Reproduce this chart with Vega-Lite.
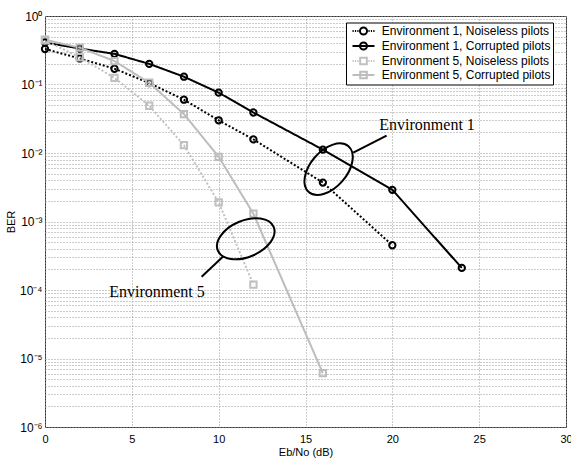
{
  "$schema": "https://vega.github.io/schema/vega-lite/v6.json",
  "width": 521,
  "height": 411,
  "autosize": "none",
  "padding": {"left": 45, "top": 16, "right": 5, "bottom": 32},
  "background": "#ffffff",
  "config": {
    "view": {"stroke": "#333333", "strokeWidth": 1},
    "axis": {
      "labelFont": "Liberation Sans",
      "titleFont": "Liberation Sans",
      "labelFontSize": 11,
      "titleFontSize": 11,
      "titleFontWeight": "normal",
      "labelColor": "#000000",
      "titleColor": "#000000",
      "domain": false,
      "ticks": false,
      "grid": true,
      "gridColor": "#999999",
      "gridDash": [1, 2],
      "gridWidth": 1,
      "labelFlush": false,
      "labelOverlap": false
    },
    "legend": {
      "symbolOpacity": 1
    }
  },
  "datasets": {
    "ber": [
      {"series": "Environment 1, Noiseless pilots", "env": "Environment 1", "pilots": "Noiseless", "snr": 0, "ber": 0.33},
      {"series": "Environment 1, Noiseless pilots", "env": "Environment 1", "pilots": "Noiseless", "snr": 2, "ber": 0.24},
      {"series": "Environment 1, Noiseless pilots", "env": "Environment 1", "pilots": "Noiseless", "snr": 4, "ber": 0.17},
      {"series": "Environment 1, Noiseless pilots", "env": "Environment 1", "pilots": "Noiseless", "snr": 6, "ber": 0.105},
      {"series": "Environment 1, Noiseless pilots", "env": "Environment 1", "pilots": "Noiseless", "snr": 8, "ber": 0.06},
      {"series": "Environment 1, Noiseless pilots", "env": "Environment 1", "pilots": "Noiseless", "snr": 10, "ber": 0.03},
      {"series": "Environment 1, Noiseless pilots", "env": "Environment 1", "pilots": "Noiseless", "snr": 12, "ber": 0.0158},
      {"series": "Environment 1, Noiseless pilots", "env": "Environment 1", "pilots": "Noiseless", "snr": 16, "ber": 0.0037},
      {"series": "Environment 1, Noiseless pilots", "env": "Environment 1", "pilots": "Noiseless", "snr": 20, "ber": 0.00045},
      {"series": "Environment 1, Corrupted pilots", "env": "Environment 1", "pilots": "Corrupted", "snr": 0, "ber": 0.41},
      {"series": "Environment 1, Corrupted pilots", "env": "Environment 1", "pilots": "Corrupted", "snr": 2, "ber": 0.335},
      {"series": "Environment 1, Corrupted pilots", "env": "Environment 1", "pilots": "Corrupted", "snr": 4, "ber": 0.28},
      {"series": "Environment 1, Corrupted pilots", "env": "Environment 1", "pilots": "Corrupted", "snr": 6, "ber": 0.2},
      {"series": "Environment 1, Corrupted pilots", "env": "Environment 1", "pilots": "Corrupted", "snr": 8, "ber": 0.13},
      {"series": "Environment 1, Corrupted pilots", "env": "Environment 1", "pilots": "Corrupted", "snr": 10, "ber": 0.076},
      {"series": "Environment 1, Corrupted pilots", "env": "Environment 1", "pilots": "Corrupted", "snr": 12, "ber": 0.039},
      {"series": "Environment 1, Corrupted pilots", "env": "Environment 1", "pilots": "Corrupted", "snr": 16, "ber": 0.0112},
      {"series": "Environment 1, Corrupted pilots", "env": "Environment 1", "pilots": "Corrupted", "snr": 20, "ber": 0.0029},
      {"series": "Environment 1, Corrupted pilots", "env": "Environment 1", "pilots": "Corrupted", "snr": 24, "ber": 0.00021},
      {"series": "Environment 5, Noiseless pilots", "env": "Environment 5", "pilots": "Noiseless", "snr": 0, "ber": 0.44},
      {"series": "Environment 5, Noiseless pilots", "env": "Environment 5", "pilots": "Noiseless", "snr": 2, "ber": 0.25},
      {"series": "Environment 5, Noiseless pilots", "env": "Environment 5", "pilots": "Noiseless", "snr": 4, "ber": 0.125},
      {"series": "Environment 5, Noiseless pilots", "env": "Environment 5", "pilots": "Noiseless", "snr": 6, "ber": 0.049},
      {"series": "Environment 5, Noiseless pilots", "env": "Environment 5", "pilots": "Noiseless", "snr": 8, "ber": 0.013},
      {"series": "Environment 5, Noiseless pilots", "env": "Environment 5", "pilots": "Noiseless", "snr": 10, "ber": 0.0019},
      {"series": "Environment 5, Noiseless pilots", "env": "Environment 5", "pilots": "Noiseless", "snr": 12, "ber": 0.00012},
      {"series": "Environment 5, Corrupted pilots", "env": "Environment 5", "pilots": "Corrupted", "snr": 0, "ber": 0.45},
      {"series": "Environment 5, Corrupted pilots", "env": "Environment 5", "pilots": "Corrupted", "snr": 2, "ber": 0.345},
      {"series": "Environment 5, Corrupted pilots", "env": "Environment 5", "pilots": "Corrupted", "snr": 4, "ber": 0.22},
      {"series": "Environment 5, Corrupted pilots", "env": "Environment 5", "pilots": "Corrupted", "snr": 6, "ber": 0.106},
      {"series": "Environment 5, Corrupted pilots", "env": "Environment 5", "pilots": "Corrupted", "snr": 8, "ber": 0.037},
      {"series": "Environment 5, Corrupted pilots", "env": "Environment 5", "pilots": "Corrupted", "snr": 10, "ber": 0.0088},
      {"series": "Environment 5, Corrupted pilots", "env": "Environment 5", "pilots": "Corrupted", "snr": 12, "ber": 0.0013},
      {"series": "Environment 5, Corrupted pilots", "env": "Environment 5", "pilots": "Corrupted", "snr": 16, "ber": 0.0000061}
    ]
  },
  "resolve": {"scale": {"shape": "independent", "stroke": "independent"}},
  "layer": [
    {
      "data": {"name": "ber"},
      "mark": {"type": "line", "clip": true},
      "encoding": {
        "x": {
          "field": "snr", "type": "quantitative",
          "scale": {"domain": [0, 30], "nice": false, "zero": false},
          "axis": {"title": "Eb/No (dB)", "values": [0, 5, 10, 15, 20, 25, 30], "labelPadding": 6, "titlePadding": 2}
        },
        "y": {
          "field": "ber", "type": "quantitative",
          "scale": {"type": "log", "domain": [0.000001, 1], "nice": false},
          "axis": {
            "title": "BER",
            "titlePadding": 3,
            "labelPadding": 3,
            "labelFontSize": 12,
            "values": [0.000001, 0.000002, 0.000003, 0.000004, 0.000005, 0.000006, 0.000007, 0.000008, 0.000009,
                       0.00001, 0.00002, 0.00003, 0.00004, 0.00005, 0.00006, 0.00007, 0.00008, 0.00009,
                       0.0001, 0.0002, 0.0003, 0.0004, 0.0005, 0.0006, 0.0007, 0.0008, 0.0009,
                       0.001, 0.002, 0.003, 0.004, 0.005, 0.006, 0.007, 0.008, 0.009,
                       0.01, 0.02, 0.03, 0.04, 0.05, 0.06, 0.07, 0.08, 0.09,
                       0.1, 0.2, 0.3, 0.4, 0.5, 0.6, 0.7, 0.8, 0.9, 1],
            "labelExpr": "abs(log(datum.value)/LN10 - round(log(datum.value)/LN10)) < 0.01 ? ['10⁰','10⁻¹','10⁻²','10⁻³','10⁻⁴','10⁻⁵','10⁻⁶'][round(-log(datum.value)/LN10)] : ''"
          }
        },
        "stroke": {
          "field": "series", "type": "nominal",
          "scale": {
            "domain": ["Environment 1, Noiseless pilots", "Environment 1, Corrupted pilots", "Environment 5, Noiseless pilots", "Environment 5, Corrupted pilots"],
            "range": ["#000000", "#000000", "#c0c0c0", "#bdbdbd"]
          },
          "legend": null
        },
        "strokeDash": {
          "field": "pilots", "type": "nominal",
          "scale": {"domain": ["Noiseless", "Corrupted"], "range": [[2, 2], [1, 0]]},
          "legend": null
        },
        "strokeWidth": {
          "field": "series", "type": "nominal",
          "scale": {
            "domain": ["Environment 1, Noiseless pilots", "Environment 1, Corrupted pilots", "Environment 5, Noiseless pilots", "Environment 5, Corrupted pilots"],
            "range": [2, 2, 1.5, 2.5]
          },
          "legend": null
        }
      }
    },
    {
      "data": {"name": "ber"},
      "mark": {"type": "point", "filled": false, "strokeWidth": 2, "opacity": 1, "size": 40},
      "encoding": {
        "x": {"field": "snr", "type": "quantitative"},
        "y": {"field": "ber", "type": "quantitative"},
        "stroke": {
          "field": "series", "type": "nominal",
          "scale": {
            "domain": ["Environment 1, Noiseless pilots", "Environment 1, Corrupted pilots", "Environment 5, Noiseless pilots", "Environment 5, Corrupted pilots"],
            "range": ["#000000", "#000000", "#c0c0c0", "#bdbdbd"]
          },
          "legend": null
        },
        "shape": {
          "field": "env", "type": "nominal",
          "scale": {"domain": ["Environment 1", "Environment 5"], "range": ["circle", "square"]},
          "legend": null
        }
      }
    },
    {
      "data": {"values": [
        {"series": "Environment 1, Noiseless pilots"},
        {"series": "Environment 1, Corrupted pilots"},
        {"series": "Environment 5, Noiseless pilots"},
        {"series": "Environment 5, Corrupted pilots"}
      ]},
      "mark": {"type": "point", "filled": false, "opacity": 0, "strokeWidth": 2},
      "encoding": {
        "stroke": {
          "field": "series", "type": "nominal",
          "scale": {
            "domain": ["Environment 1, Noiseless pilots", "Environment 1, Corrupted pilots", "Environment 5, Noiseless pilots", "Environment 5, Corrupted pilots"],
            "range": ["#000000", "#000000", "#c0c0c0", "#bdbdbd"]
          },
          "legend": {
            "title": null,
            "orient": "none",
            "legendX": 301,
            "legendY": 6.5,
            "strokeColor": "#000000",
            "fillColor": "#ffffff",
            "padding": 2,
            "rowPadding": -2,
            "symbolSize": 121,
            "symbolStrokeWidth": 2,
            "symbolOpacity": 1,
            "symbolOffset": 9,
            "labelOffset": 11.7,
            "labelFont": "Liberation Sans",
            "labelFontSize": 12,
            "labelColor": "#000000",
            "labelLimit": 400,
            "labelExpr": "datum.label + '     '"
          }
        },
        "shape": {
          "field": "series", "type": "nominal",
          "scale": {
            "domain": ["Environment 1, Noiseless pilots", "Environment 1, Corrupted pilots", "Environment 5, Noiseless pilots", "Environment 5, Corrupted pilots"],
            "range": [
              "M -2 0 L -1.78 0 M -1.56 0 L -1.34 0 M -1.12 0 L -0.9 0 M 0.9 0 L 1.12 0 M 1.34 0 L 1.56 0 M 1.78 0 L 2 0 M 0.64 0 A 0.64 0.64 0 1 1 -0.64 0 A 0.64 0.64 0 1 1 0.64 0",
              "M -2 0 L 2 0 M 0.64 0 A 0.64 0.64 0 1 1 -0.64 0 A 0.64 0.64 0 1 1 0.64 0",
              "M -2 0 L -1.78 0 M -1.56 0 L -1.34 0 M -1.12 0 L -0.9 0 M 0.9 0 L 1.12 0 M 1.34 0 L 1.56 0 M 1.78 0 L 2 0 M -0.6 -0.6 L 0.6 -0.6 L 0.6 0.6 L -0.6 0.6 Z",
              "M -2 0 L 2 0 M -0.6 -0.6 L 0.6 -0.6 L 0.6 0.6 L -0.6 0.6 Z"
            ]
          },
          "legend": {
            "title": null,
            "orient": "none",
            "legendX": 301,
            "legendY": 6.5,
            "strokeColor": "#000000",
            "fillColor": "#ffffff",
            "padding": 2,
            "rowPadding": -2,
            "symbolSize": 121,
            "symbolStrokeWidth": 2,
            "symbolOpacity": 1,
            "symbolOffset": 9,
            "labelOffset": 11.7,
            "labelFont": "Liberation Sans",
            "labelFontSize": 12,
            "labelColor": "#000000",
            "labelLimit": 400,
            "labelExpr": "datum.label + '     '"
          }
        }
      }
    },
    {
      "data": {"values": [{"snr": 16.33, "ber": 0.0058}]},
      "mark": {"type": "point", "shape": "M 1 0 A 1 0.6 0 1 1 -1 0 A 1 0.6 0 1 1 1 0", "size": 3672, "angle": 311, "filled": false, "stroke": "#000000", "strokeWidth": 2, "opacity": 1},
      "encoding": {
        "x": {"field": "snr", "type": "quantitative"},
        "y": {"field": "ber", "type": "quantitative"}
      }
    },
    {
      "data": {"values": [{"snr": 11.56, "ber": 0.00056}]},
      "mark": {"type": "point", "shape": "M 1 0 A 1 0.6 0 1 1 -1 0 A 1 0.6 0 1 1 1 0", "size": 3672, "angle": 337, "filled": false, "stroke": "#000000", "strokeWidth": 2, "opacity": 1},
      "encoding": {
        "x": {"field": "snr", "type": "quantitative"},
        "y": {"field": "ber", "type": "quantitative"}
      }
    },
    {
      "data": {"values": [
        {"x1": 17.75, "y1": 0.0101, "x2": 19.67, "y2": 0.018},
        {"x1": 10.27, "y1": 0.000311, "x2": 9.02, "y2": 0.000156}
      ]},
      "mark": {"type": "rule", "stroke": "#000000", "strokeWidth": 2},
      "encoding": {
        "x": {"field": "x1", "type": "quantitative"},
        "y": {"field": "y1", "type": "quantitative"},
        "x2": {"field": "x2"},
        "y2": {"field": "y2"}
      }
    },
    {
      "data": {"values": [
        {"label": "Environment 1", "snr": 19.25, "ber": 0.022},
        {"label": "Environment 5", "snr": 3.7, "ber": 0.0000796}
      ]},
      "mark": {"type": "text", "align": "left", "baseline": "alphabetic", "font": "Liberation Serif", "fontSize": 16, "color": "#000000"},
      "encoding": {
        "x": {"field": "snr", "type": "quantitative"},
        "y": {"field": "ber", "type": "quantitative"},
        "text": {"field": "label"}
      }
    }
  ]
}
